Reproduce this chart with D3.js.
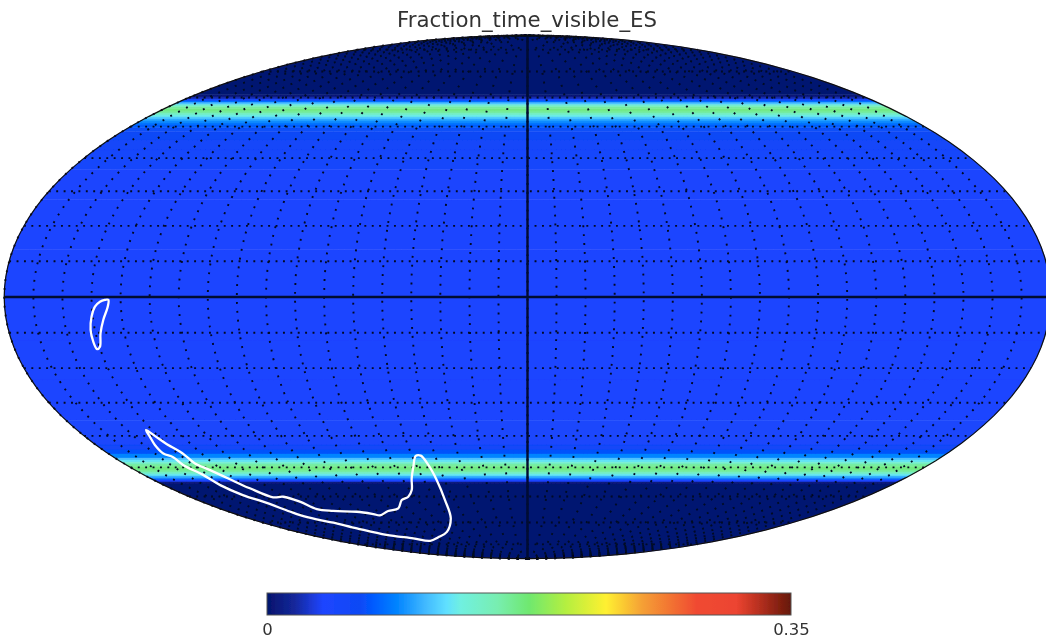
<!DOCTYPE html>
<html>
<head>
<meta charset="utf-8">
<script src="https://cdn.jsdelivr.net/npm/d3@7"></script>
<style>
  html, body { margin: 0; background: #fff; }
  svg { display: block; }
  text { font-family: "DejaVu Sans", sans-serif; fill: #333; }
</style>
</head>
<body>
<svg id="chart"></svg>
<script>
const chartTitle = "Fraction_time_visible_ES";
const valueMin = 0, valueMax = 0.35;
const colorbarTicks = [0, 0.35];

// sky map profile, value per latitude band
const bandLat = [90, 61, 60.2, 59.5, 58.8, 58.1, 57.4, 56.7, 56, 55.3, 54.6, 53.9, 53.2, 52.5, 51.9, 51.2, 50.5, 49.6, 48.3, 45.7, 42.5, 36.4, 27.5, 13.2, 0, -12, -23.4, -35.2, -42.8, -44.4, -45.7, -47, -47.6, -48.3, -48.9, -49.6, -50.2, -50.9, -51.5, -52.2, -52.9, -53.6, -54.2, -54.9, -55.6, -90];
const bandValue = [0.002, 0.002, 0.008, 0.035, 0.065, 0.095, 0.125, 0.15, 0.168, 0.168, 0.155, 0.135, 0.12, 0.105, 0.095, 0.085, 0.076, 0.068, 0.062, 0.056, 0.05, 0.042, 0.0375, 0.0375, 0.0375, 0.0375, 0.0375, 0.039, 0.05, 0.06, 0.074, 0.1, 0.115, 0.13, 0.15, 0.165, 0.17, 0.168, 0.155, 0.135, 0.115, 0.09, 0.065, 0.012, 0.002, 0.002];

// white contours, [lon, lat]
const contourSmall = [[-145.4,-0.8],[-144.2,-0.8],[-144.5,-2.7],[-146.5,-6.4],[-148.3,-10.1],[-149.8,-13.9],[-151.1,-14.6],[-151.6,-12.5],[-151.5,-9.2],[-150.4,-5.5],[-148.9,-2.7],[-147.1,-1.3]];
const contourBig = [[-152.4,-38.2],[-151.3,-40],[-150.1,-42.5],[-148.3,-44.9],[-148,-46.5],[-148.2,-48.7],[-145.6,-50.9],[-142.7,-54],[-140,-57.1],[-136,-60.3],[-130.1,-60.1],[-125.7,-61.9],[-123.8,-64.7],[-116.2,-65.4],[-102.8,-65.7],[-95,-66.6],[-92.1,-67.1],[-83.3,-65.4],[-75.4,-64.4],[-68.6,-61.3],[-63.5,-60.1],[-59,-57.7],[-55.3,-53.7],[-51.6,-49.8],[-48.4,-46.3],[-46.2,-46.2],[-44.5,-49.2],[-43.7,-54.2],[-45,-61.3],[-49.5,-68.3],[-62.9,-74],[-77.6,-76.5],[-92.3,-78.2],[-101.7,-77],[-116.7,-75.4],[-125.8,-72.5],[-132.1,-70.1],[-137.6,-68.7],[-141.6,-67],[-142.8,-65.6],[-146,-61.9],[-149.9,-59.5],[-152.1,-56],[-152.2,-52.5],[-154.5,-49.2],[-154.2,-46.7],[-156.3,-45.5],[-155.4,-42.8],[-153.6,-40.2]];

// colour bar stops
const cmapPos = [0, 0.052, 0.107, 0.176, 0.204, 0.246, 0.301, 0.343, 0.37, 0.44, 0.5, 0.571, 0.647, 0.716, 0.82, 0.896, 0.938, 1];
const cmapColor = ["#04146c", "#14279a", "#1f45ff", "#0d48f5", "#005cff", "#0082ff", "#40b8ff", "#60e0ff", "#70f0e0", "#78eeb0", "#6fe86f", "#b5ef40", "#fff030", "#f5a035", "#f04a30", "#ec4430", "#b83020", "#651808"];

const width = 1046, height = 641;
const svg = d3.select("#chart").attr("width", width).attr("height", height);

const defs = svg.append("defs");
const blur = defs.append("filter").attr("id", "soft")
    .attr("filterUnits", "userSpaceOnUse")
    .attr("x", 0).attr("y", 0).attr("width", width).attr("height", height);
blur.append("feGaussianBlur").attr("stdDeviation", 0.7);

// Mollweide isn't in core d3-geo
function mollweideRaw (lambda, phi) {
    let theta = phi;
    if (Math.abs(Math.abs(phi) - Math.PI / 2) > 1e-6) {
        for (let i = 0; i < 40; i++) {
            const delta = (2 * theta + Math.sin(2 * theta) - Math.PI * Math.sin(phi)) / (2 + 2 * Math.cos(2 * theta));
            theta -= delta;
            if (Math.abs(delta) < 1e-9) break;
        }
    }
    return [2 * Math.SQRT2 / Math.PI * lambda * Math.cos(theta), Math.SQRT2 * Math.sin(theta)];
}

const projection = d3.geoProjection(mollweideRaw)
    .scale(185)
    .translate([527.5, 297])
    .precision(0.2);
const geoPath = d3.geoPath(projection);

const color = d3.scaleLinear()
    .domain(cmapPos.map(p => valueMin + p * (valueMax - valueMin)))
    .range(cmapColor)
    .clamp(true);

const map = svg.append("g").attr("filter", "url(#soft)");

// latitude bands
const lons = d3.range(-180, 180.1, 2);
const lonLine = d3.line().x(d => projection(d)[0]).y(d => projection(d)[1]);
const contourLine = d3.line()
    .x(d => projection(d)[0])
    .y(d => projection(d)[1])
    .curve(d3.curveCatmullRomClosed.alpha(0.5));

// one closed ring round a band, sides follow the map edge
function bandRing (latA, latB) {
    const side = d3.range(latA, latB, -0.5);
    return lons.map(l => [l, latA])
        .concat(side.map(p => [180, p]))
        .concat(lons.slice().reverse().map(l => [l, latB]))
        .concat(side.slice().reverse().map(p => [-180, p]));
}

const bands = d3.pairs(d3.zip(bandLat, bandValue));
map.append("g").selectAll("path")
    .data(bands)
    .enter()
    .append("path")
    .attr("d", ([a, b]) => lonLine(bandRing(a[0], b[0])) + "Z")
    .attr("fill", ([a, b]) => color((a[1] + b[1]) / 2))
    .attr("stroke", ([a, b]) => color((a[1] + b[1]) / 2))
    .attr("stroke-width", 0.5);

// dotted graticule, 10 degrees both ways
const graticule = d3.geoGraticule()
    .extentMajor([[-180, -90], [180, 90]])
    .stepMajor([10, 10])
    .stepMinor([10, 10])
    .lines();
const isMeridian = l => l.coordinates[0][0] === l.coordinates[1][0];

map.append("g").selectAll("path")
    .data(graticule)
    .enter()
    .append("path")
    .attr("d", geoPath)
    .attr("fill", "none")
    .attr("stroke", "#000822")
    .attr("stroke-width", 1.9)
    .attr("stroke-dasharray", d => isMeridian(d) ? "1.9 7" : "1.9 5.5");

// equator and central meridian
const axesLines = [
    { type: "LineString", coordinates: d3.range(-180, 180.1, 10).map(l => [l, 0]) },
    { type: "LineString", coordinates: d3.range(-90, 90.1, 10).map(p => [0, p]) }
];
map.append("g").selectAll("path")
    .data(axesLines)
    .enter()
    .append("path")
    .attr("d", geoPath)
    .attr("fill", "none")
    .attr("stroke", "#020a30")
    .attr("stroke-width", 2.4);

map.append("path")
    .datum({ type: "Sphere" })
    .attr("d", geoPath)
    .attr("fill", "none")
    .attr("stroke", "#111")
    .attr("stroke-width", 1.2);

// contours
map.append("g").selectAll("path")
    .data([contourSmall, contourBig])
    .enter()
    .append("path")
    .attr("d", d => contourLine(d))
    .attr("fill", "none")
    .attr("stroke", "#fff")
    .attr("stroke-width", 2.3)
    .attr("stroke-linejoin", "round");

// colour bar
const gradient = defs.append("linearGradient").attr("id", "cbar");
gradient.selectAll("stop")
    .data(d3.zip(cmapPos, cmapColor))
    .enter()
    .append("stop")
    .attr("offset", d => d[0])
    .attr("stop-color", d => d[1]);

const barX = d3.scaleLinear().domain([valueMin, valueMax]).range([267, 791]);

svg.append("rect")
    .attr("x", barX(valueMin))
    .attr("y", 593)
    .attr("width", barX(valueMax) - barX(valueMin))
    .attr("height", 22)
    .attr("fill", "url(#cbar)")
    .attr("stroke", "#555")
    .attr("stroke-width", 1)
    .attr("filter", "url(#soft)");

const barAxis = svg.append("g")
    .attr("transform", "translate(0,615)")
    .attr("filter", "url(#softAxis)")
    .call(d3.axisBottom(barX).tickValues(colorbarTicks).tickSize(0).tickPadding(8).tickFormat(d3.format("")));
barAxis.select(".domain").remove();
barAxis.selectAll("text")
    .style("font-family", '"DejaVu Sans", sans-serif')
    .style("font-size", "16.5px")
    .attr("fill", "#333");

// same blur, default bounding box so translated groups aren't cut
defs.append("filter").attr("id", "softAxis")
    .append("feGaussianBlur").attr("stdDeviation", 0.6);

svg.append("text")
    .attr("x", 527)
    .attr("y", 27)
    .attr("text-anchor", "middle")
    .style("font-size", "21.3px")
    .attr("filter", "url(#soft)")
    .text(chartTitle);
</script>
</body>
</html>
